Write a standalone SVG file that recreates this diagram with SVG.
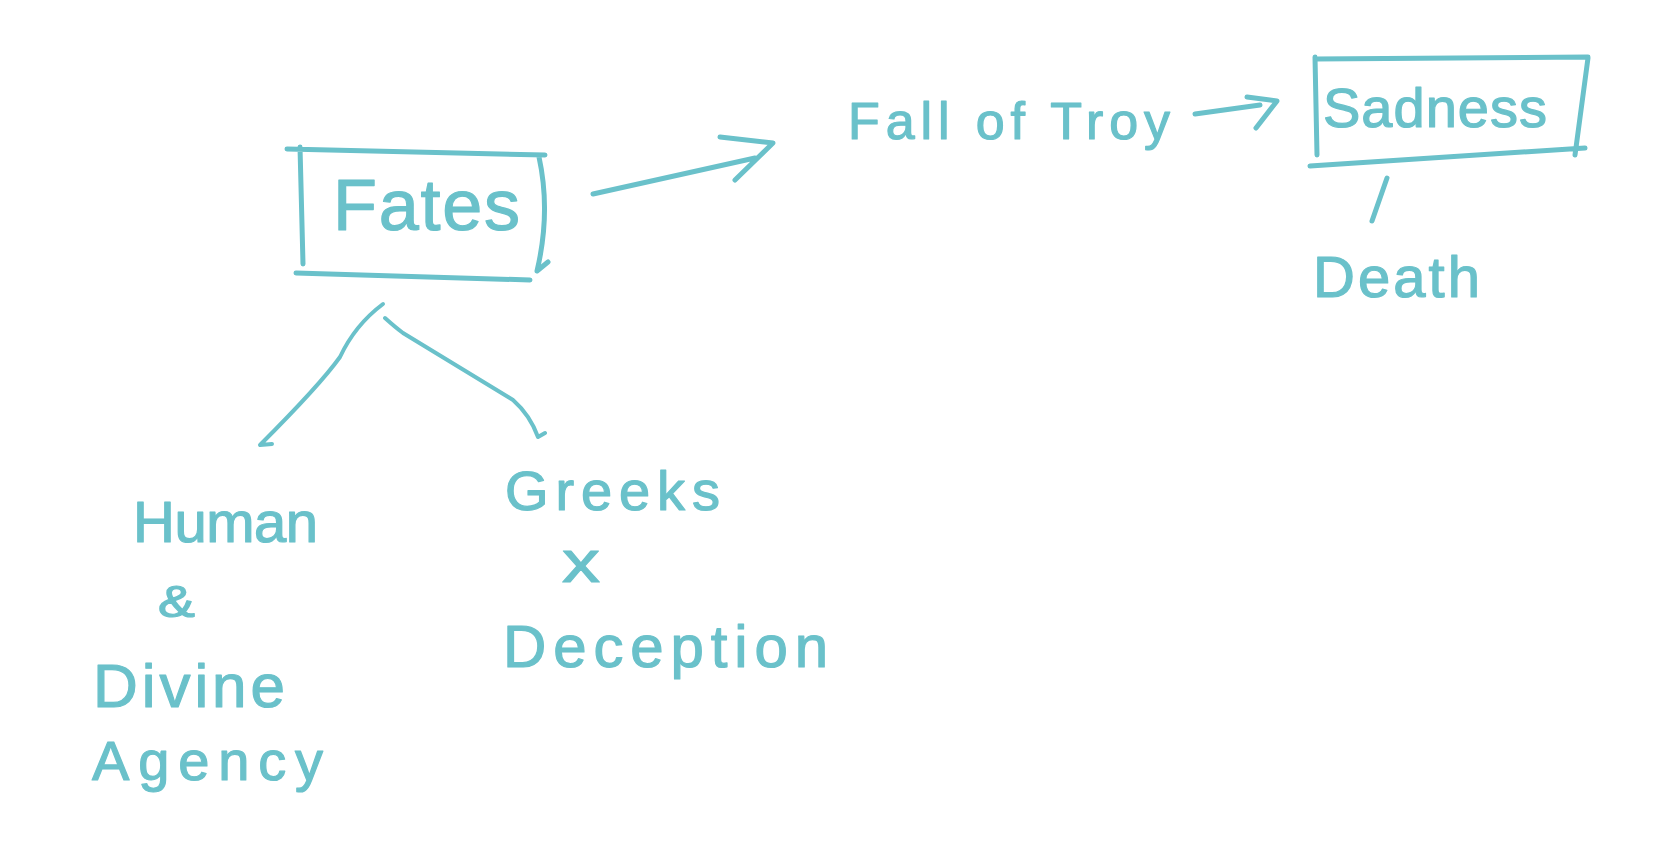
<svg xmlns="http://www.w3.org/2000/svg" width="1668" height="855" viewBox="0 0 1668 855">
<style>
.ink{fill:none;stroke:#6ac1ca;stroke-width:5;stroke-linecap:round;stroke-linejoin:round}
.thin{fill:none;stroke:#6ac1ca;stroke-width:4;stroke-linecap:round;stroke-linejoin:round}
text{fill:#6ac1ca;stroke:#6ac1ca;stroke-width:1.2;stroke-linejoin:round;font-family:"Liberation Sans",Arial,sans-serif;font-weight:normal}
</style>
<rect width="1668" height="855" fill="#ffffff"/>
<g id="node-fates">
<path class="ink" d="M287,149 L545,155 M300,147 L303,264 M296,273 L530,280 M539,157 Q551,212 537,271 L548,262"/>
<text x="333" y="230" font-size="72" textLength="187" lengthAdjust="spacing">Fates</text>
</g>
<g id="node-falloftroy">
<text x="848" y="139" font-size="52" textLength="322" lengthAdjust="spacing">Fall of Troy</text>
</g>
<g id="node-sadness">
<path class="ink" d="M1315,59 L1588,57 M1315,57 L1317,155 M1588,58 L1575,155 M1310,166 L1585,148"/>
<text x="1323" y="127" font-size="56" textLength="224" lengthAdjust="spacing">Sadness</text>
</g>
<g id="node-death">
<text x="1313" y="297" font-size="58" textLength="167" lengthAdjust="spacing">Death</text>
</g>
<g id="node-human-divine">
<text x="133" y="542" font-size="58" textLength="185" lengthAdjust="spacing">Human</text>
<text x="158" y="617" font-size="44" textLength="37" lengthAdjust="spacingAndGlyphs">&amp;</text>
<text x="93" y="707" font-size="62" textLength="192" lengthAdjust="spacing">Divine</text>
<text x="92" y="780" font-size="56" textLength="231" lengthAdjust="spacing">Agency</text>
</g>
<g id="node-greeks">
<text x="505" y="510" font-size="56" textLength="215" lengthAdjust="spacing">Greeks</text>
<text x="562" y="582" font-size="60" textLength="38" lengthAdjust="spacingAndGlyphs">x</text>
<text x="503" y="667" font-size="60" textLength="325" lengthAdjust="spacing">Deception</text>
</g>
<g id="connectors">
<path class="ink" d="M593,194 L755,158 M720,137 L773,143 L735,180"/>
<path class="ink" d="M1195,114 L1260,105 M1247,97 L1277,101 L1256,128"/>
<path class="ink" d="M1387,178 L1372,221"/>
<path class="thin" d="M383,304 Q355,325 340,357 Q320,385 260,445 L272,444"/>
<path class="thin" d="M385,318 Q395,327 403,333 L513,400 Q530,415 538,437 L545,433"/>
</g>
</svg>
